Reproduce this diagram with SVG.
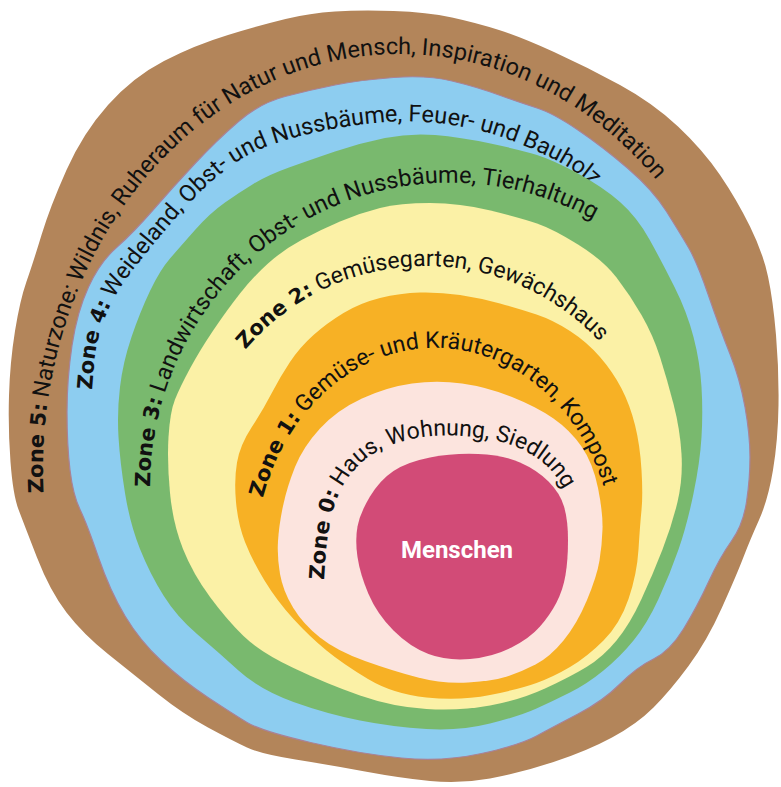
<svg xmlns="http://www.w3.org/2000/svg" width="781" height="787" viewBox="0 0 781 787">
  <style>
    .lbl { font-family: Roboto, "Noto Sans", "Liberation Sans", sans-serif; font-size: 23.5px; fill: #111; }
    .sm { font-size: 23px; }
    .b { font-family: "DejaVu Sans", "Open Sans", sans-serif; font-weight: 700; font-size: 21px; }
    .core { font-family: Roboto, "Liberation Sans", sans-serif; font-weight: 700; font-size: 24px; fill: #fff; text-anchor: middle; }
  </style>
  <defs>
    <!-- baselines for the curved zone captions -->
    <path id="arc5" d="M 43.6,493 A 357 415 0 1 1 756,500"/>
    <path id="arc4" d="M 92,390 L 94,365 Q 96,340 105.5,316.5 Q 115,293 132.5,270.5 Q 150,248 174,220 Q 198,192 221.5,173 Q 245,154 272.5,144.5 Q 300,135 330,129.5 Q 360,124 387.5,122 Q 415,120 445,124 Q 475,128 500,136.5 Q 525,145 545,155 Q 565,164 582,177 Q 598,189 640,232"/>
    <path id="arc3" d="M 150,487 A 300 305 0 0 1 749.5,470"/>
    <path id="arc2" d="M 245.3,349.7 A 237 237 0 0 1 663,503"/>
    <path id="arc1" d="M 263,498 A 180 213 0 0 1 615,560"/>
    <path id="arc0" d="M 324,580 L 326,550 Q 329,520 336.5,500 Q 344,480 359,465 Q 374,450 397,443 Q 420,436 440,435.5 Q 460,435 482.5,438 Q 505,441 525,451 Q 545,461 557,478 Q 569,495 585,535"/>
  </defs>

  <!-- Zone 5: outer brown paper -->
  <g id="zone5">
    <path fill="#B3855A" d="M 228,35 Q 261,25 285.5,19 Q 310,13 335,11.5 Q 360,10 393.5,11 Q 427,12 452,17.5 Q 477,23 499,30 Q 521,37 554,52 Q 587,67 620,85 Q 653,103 678,126.5 Q 703,150 720,175 Q 737,200 750,226.5 Q 763,253 768,276.5 Q 773,300 776,335 Q 779,370 778.5,405 Q 778,440 773,470 Q 768,500 759,520 Q 750,540 743.5,557 Q 737,574 722,607.5 Q 707,641 688.5,666 Q 670,691 653.5,707.5 Q 637,724 612,737.5 Q 587,751 553.5,762 Q 520,773 490,778.5 Q 460,784 430,781 Q 400,778 365,771.5 Q 330,765 295.5,759.5 Q 261,754 247,747.5 Q 233,741 208,727.5 Q 183,714 158,694 Q 133,674 108,654 Q 83,634 66.5,612.5 Q 50,591 37,557.5 Q 24,524 18.5,509.5 Q 13,495 10.5,462 Q 8,429 9,395.5 Q 10,362 15,331 Q 20,300 26.5,281.5 Q 33,263 41.5,235 Q 50,207 66.5,170 Q 83,133 108,105 Q 133,77 164,61 Q 195,45 228,35 Z"/>
    <text class="lbl"><textPath href="#arc5"><tspan class="b">Zone 5:</tspan> Naturzone: Wildnis, Ruheraum für Natur und Mensch, Inspiration und Meditation</textPath></text>
  </g>

  <!-- Zone 4: blue -->
  <g id="zone4">
    <path fill="#8DCDF0" stroke="#A98296" stroke-width="1.2" d="M 238.5,121.5 Q 260,103 285,96.5 Q 310,90 335,85 Q 360,80 393.5,77.5 Q 427,75 452,81 Q 477,87 499,95 Q 521,103 537,108 Q 553,113 578,130 Q 603,147 628,168.5 Q 653,190 666.5,211.5 Q 680,233 688.5,247.5 Q 697,262 708.5,295.5 Q 720,329 730,354 Q 740,379 745,407 Q 750,435 750,457 Q 750,479 746.5,502 Q 743,525 731.5,541 Q 720,557 708.5,582 Q 697,607 683.5,629 Q 670,651 653.5,659 Q 637,667 620,684 Q 603,701 578,714 Q 553,727 536.5,736 Q 520,745 481.5,753.5 Q 443,762 401.5,758 Q 360,754 310.5,742.5 Q 261,731 247,722.5 Q 233,714 208,697.5 Q 183,681 161.5,661 Q 140,641 125,616 Q 110,591 98.5,557.5 Q 87,524 80,509.5 Q 73,495 70,470 Q 67,445 67,412 Q 67,379 72,345.5 Q 77,312 88.5,287 Q 100,262 116.5,247.5 Q 133,233 153,210 Q 173,187 195,163.5 Q 217,140 238.5,121.5 Z"/>
    <text class="lbl"><textPath href="#arc4"><tspan class="b">Zone 4:</tspan> Weideland, Obst- und Nussbäume, Feuer- und Bauholz</textPath></text>
  </g>

  <!-- Zone 3: green -->
  <g id="zone3">
    <path fill="#79B96E" d="M 254,183.5 Q 268,175 289,167.5 Q 310,160 335,151.5 Q 360,143 385,138 Q 410,133 435,135 Q 460,137 490.5,143.5 Q 521,150 537,155 Q 553,160 578,173.5 Q 603,187 620,202 Q 637,217 649.5,239.5 Q 662,262 674.5,287 Q 687,312 693.5,337 Q 700,362 701.5,387 Q 703,412 701.5,437 Q 700,462 693.5,493.5 Q 687,525 678.5,549.5 Q 670,574 658.5,599 Q 647,624 633.5,640.5 Q 620,657 603.5,670.5 Q 587,684 570,692.5 Q 553,701 536.5,708.5 Q 520,716 490,723.5 Q 460,731 426.5,729 Q 393,727 360,720.5 Q 327,714 293.5,702 Q 260,690 238.5,670.5 Q 217,651 197,634 Q 177,617 163.5,595.5 Q 150,574 140,549 Q 130,524 125,493 Q 120,462 118.5,437 Q 117,412 120,387 Q 123,362 131.5,337 Q 140,312 150,291 Q 160,270 170,258.5 Q 180,247 195,230 Q 210,213 225,202.5 Q 240,192 254,183.5 Z"/>
    <text class="lbl"><textPath href="#arc3"><tspan class="b">Zone 3:</tspan> Landwirtschaft, Obst- und Nussbäume, Tierhaltung</textPath></text>
  </g>

  <!-- Zone 2: yellow -->
  <g id="zone2">
    <path fill="#FBF1A6" d="M 301.5,240 Q 320,230 340,221.5 Q 360,213 380,208 Q 400,203 430,203 Q 460,203 490.5,210.5 Q 521,218 537,223.5 Q 553,229 578,244.5 Q 603,260 616.5,277.5 Q 630,295 641.5,315 Q 653,335 660,357 Q 667,379 673.5,404 Q 680,429 681.5,454 Q 683,479 677.5,502 Q 672,525 662.5,549.5 Q 653,574 641.5,599 Q 630,624 616.5,640.5 Q 603,657 586.5,667 Q 570,677 545,688.5 Q 520,700 490,705.5 Q 460,711 426.5,709 Q 393,707 360,695.5 Q 327,684 293.5,668 Q 260,652 243.5,636 Q 227,620 210,597 Q 193,574 183,549 Q 173,524 170,493 Q 167,462 168.5,437 Q 170,412 175,399.5 Q 180,387 190,368.5 Q 200,350 213.5,330 Q 227,310 240,293.5 Q 253,277 268,263.5 Q 283,250 301.5,240 Z"/>
    <text class="lbl sm"><textPath href="#arc2"><tspan class="b">Zone 2:</tspan> Gemüsegarten, Gewächshaus</textPath></text>
  </g>

  <!-- Zone 1: orange -->
  <g id="zone1">
    <path fill="#F7B125" d="M 313.5,335 Q 327,323 343.5,313 Q 360,303 380,298 Q 400,293 420,292.5 Q 440,292 460,295 Q 480,298 500,303.5 Q 520,309 536.5,314.5 Q 553,320 570,331 Q 587,342 600,357 Q 613,372 621.5,388.5 Q 630,405 635,425 Q 640,445 641.5,470 Q 643,495 641.5,510 Q 640,525 638.5,549.5 Q 637,574 628.5,599 Q 620,624 603.5,640.5 Q 587,657 570,667 Q 553,677 536.5,683 Q 520,689 490,695 Q 460,701 426.5,697.5 Q 393,694 368,679 Q 343,664 326.5,650.5 Q 310,637 293.5,619 Q 277,601 264.5,580.5 Q 252,560 245,542 Q 238,524 236,502 Q 234,480 237,462.5 Q 240,445 251.5,427.5 Q 263,410 271.5,393.5 Q 280,377 290,362 Q 300,347 313.5,335 Z"/>
    <text class="lbl sm"><textPath href="#arc1"><tspan class="b">Zone 1:</tspan> Gemüse- und Kräutergarten, Kompost</textPath></text>
  </g>

  <!-- Zone 0: pale pink -->
  <g id="zone0">
    <path fill="#FCE4DE" d="M 320,428.5 Q 337,410 362,398.5 Q 387,387 412,383.5 Q 437,380 462,383.5 Q 487,387 512,397 Q 537,407 553.5,418.5 Q 570,430 581.5,446.5 Q 593,463 598,488 Q 603,513 602.5,529 Q 602,545 599.5,560.5 Q 597,576 587,600 Q 577,624 563.5,640.5 Q 550,657 535.5,664.5 Q 521,672 507,676.5 Q 493,681 468,682.5 Q 443,684 418,677.5 Q 393,671 365,661 Q 337,651 320,637.5 Q 303,624 293,607.5 Q 283,591 280,574 Q 277,557 278,541 Q 279,525 283,506 Q 287,487 295,467 Q 303,447 320,428.5 Z"/>
    <text class="lbl sm"><textPath href="#arc0"><tspan class="b">Zone 0:</tspan> Haus, Wohnung, Siedlung</textPath></text>
  </g>

  <!-- centre: people -->
  <g id="menschen">
    <path fill="#D24B77" d="M 430,457.5 Q 453,453 478,454 Q 503,455 520,462.5 Q 537,470 548.5,481.5 Q 560,493 564,506.5 Q 568,520 568,540 Q 568,560 565.5,575 Q 563,590 556.5,602.5 Q 550,615 540,626.5 Q 530,638 511.5,647.5 Q 493,657 470,659 Q 447,661 428.5,654 Q 410,647 393.5,630.5 Q 377,614 368.5,594 Q 360,574 357.5,557 Q 355,540 357.5,526.5 Q 360,513 370,496.5 Q 380,480 393.5,471 Q 407,462 430,457.5 Z"/>
    <text class="core" x="457" y="558">Menschen</text>
  </g>
</svg>
